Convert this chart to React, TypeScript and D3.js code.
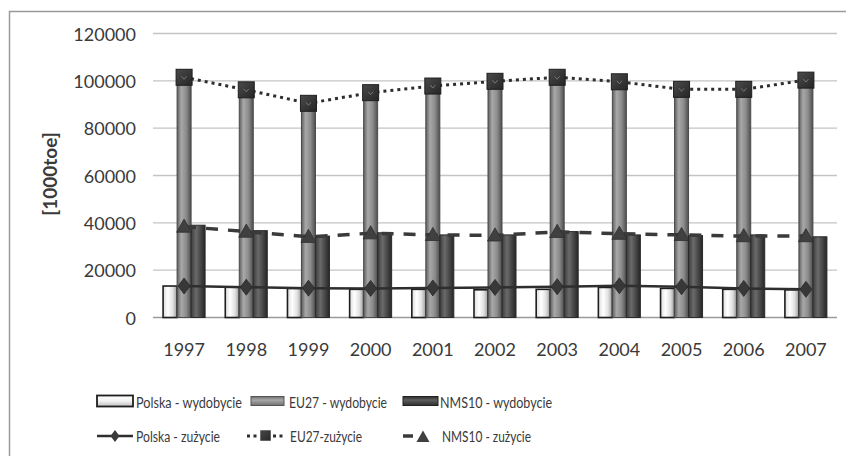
import React from "react";
import * as d3 from "d3";

const years = ["1997", "1998", "1999", "2000", "2001", "2002", "2003", "2004", "2005", "2006", "2007"];
const polskaWyd = [13300, 12800, 12300, 11900, 11900, 11700, 11900, 12700, 12300, 11900, 11700];
const eu27Wyd = [101300, 96000, 90300, 94800, 97600, 99600, 101300, 99400, 96200, 96200, 100100];
const nms10Wyd = [39000, 36700, 34400, 35800, 34900, 34900, 36300, 34900, 34600, 34900, 34100];
const polskaZuz = [13300, 12800, 12400, 12300, 12500, 12700, 13000, 13400, 13000, 12300, 11900];
const eu27Zuz = [101500, 96200, 90500, 95000, 97800, 99800, 101500, 99600, 96400, 96400, 100300];
const nms10Zuz = [38400, 36300, 34100, 35600, 34900, 34700, 36200, 35400, 34900, 34400, 34400];
const yTicks = [0, 20000, 40000, 60000, 80000, 100000, 120000];
const barSeries = ["Polska - wydobycie", "EU27 - wydobycie", "NMS10 - wydobycie"];
const lineSeries = ["Polska - zużycie", "EU27-zużycie", "NMS10 - zużycie"];

const FONT = "Lato, 'Open Sans', sans-serif";
const TXT = "#3a3a3a";

export default function App() {
  const W = 846, H = 456;
  const x = d3.scaleBand<string>().domain(years).range([153, 837]).padding(0);
  const y = d3.scaleLinear().domain([0, 120000]).range([317.5, 33.5]);
  const inner = d3.scaleBand<string>().domain(barSeries).range([-21, 21]).padding(0);
  const cx = (yr: string) => (x(yr) as number) + x.bandwidth() / 2;

  const barData = [polskaWyd, eu27Wyd, nms10Wyd];
  const fills = ["url(#gPol)", "url(#gEu)", "url(#gNms)"];
  const strokes = ["#1e1e1e", "#4a4a4a", "#2a2a2a"];

  const line = d3.line<number>().x((_, i) => cx(years[i])).y((v) => y(v));

  const diamond = (px: number, py: number, w = 6, h = 8) =>
    `M${px},${py - h}L${px + w},${py}L${px},${py + h}L${px - w},${py}Z`;
  const tri = (px: number, py: number, s = 7.5) =>
    `M${px},${py - s}L${px + s},${py + s * 0.75}L${px - s},${py + s * 0.75}Z`;

  const legFs = 15.5;
  const legText = (label: string, tx: number, ty: number, len: number) => (
    <text
      x={tx}
      y={ty}
      dominantBaseline="central"
      fontSize={legFs}
      fill={TXT}
      textLength={len}
      lengthAdjust="spacingAndGlyphs"
    >
      {label}
    </text>
  );

  return (
    <svg width={W} height={H} style={{ position: "absolute", left: 0, top: 0, fontFamily: FONT }}>
      <defs>
        <linearGradient id="gPol" x1="0" x2="1" y1="0" y2="0">
          <stop offset="0" stopColor="#dcdcdc" />
          <stop offset="0.35" stopColor="#ffffff" />
          <stop offset="0.7" stopColor="#e0e0e0" />
          <stop offset="1" stopColor="#9a9a9a" />
        </linearGradient>
        <linearGradient id="gEu" x1="0" x2="1" y1="0" y2="0">
          <stop offset="0" stopColor="#5e5e5e" />
          <stop offset="0.3" stopColor="#a8a8a8" />
          <stop offset="0.65" stopColor="#8c8c8c" />
          <stop offset="1" stopColor="#4e4e4e" />
        </linearGradient>
        <linearGradient id="gNms" x1="0" x2="1" y1="0" y2="0">
          <stop offset="0" stopColor="#3c3c3c" />
          <stop offset="0.35" stopColor="#6a6a6a" />
          <stop offset="0.7" stopColor="#454545" />
          <stop offset="1" stopColor="#262626" />
        </linearGradient>
        <linearGradient id="lPol" x1="0" x2="0" y1="0" y2="1">
          <stop offset="0" stopColor="#ffffff" />
          <stop offset="0.5" stopColor="#f2f2f2" />
          <stop offset="1" stopColor="#bdbdbd" />
        </linearGradient>
        <linearGradient id="lEu" x1="0" x2="0" y1="0" y2="1">
          <stop offset="0" stopColor="#6e6e6e" />
          <stop offset="0.4" stopColor="#a9a9a9" />
          <stop offset="1" stopColor="#707070" />
        </linearGradient>
        <linearGradient id="lNms" x1="0" x2="0" y1="0" y2="1">
          <stop offset="0" stopColor="#2e2e2e" />
          <stop offset="0.4" stopColor="#5e5e5e" />
          <stop offset="1" stopColor="#2e2e2e" />
        </linearGradient>
        <linearGradient id="gMark" x1="0" x2="1" y1="0" y2="1">
          <stop offset="0" stopColor="#4a4a4a" />
          <stop offset="1" stopColor="#262626" />
        </linearGradient>
      </defs>
      <rect x={0} y={0} width={W} height={H} fill="#ffffff" />
      <rect x={9.5} y={11.5} width={900} height={500} fill="#ffffff" stroke="#9a9a9a" strokeWidth={1.5} />

      {/* gridlines */}
      {yTicks.map((t) => (
        <line key={t} x1={153} x2={837} y1={y(t)} y2={y(t)} stroke={t === 0 ? "#9a9a9a" : "#c4c4c4"} strokeWidth={1.3} />
      ))}
      {yTicks.map((t) => (
        <text key={"t" + t} x={136} y={y(t)} textAnchor="end" dominantBaseline="central" fontSize={18} fill={TXT}>
          {t}
        </text>
      ))}
      <text
        transform={`translate(49,174) rotate(-90)`}
        textAnchor="middle"
        dominantBaseline="central"
        fontSize={19}
        fontWeight="bold"
        fill={TXT}
      >
        [1000toe]
      </text>

      {/* bars */}
      {barData.map((arr, si) =>
        arr.map((v, i) => {
          const bx = cx(years[i]) + (inner(barSeries[si]) as number);
          return (
            <rect
              key={si + "-" + i}
              x={bx}
              y={y(v)}
              width={inner.bandwidth()}
              height={y(0) - y(v)}
              fill={fills[si]}
              stroke={strokes[si]}
              strokeWidth={si === 0 ? 1.6 : 1}
            />
          );
        })
      )}

      {/* lines */}
      <path d={line(polskaZuz) as string} fill="none" stroke="#2e2e2e" strokeWidth={2.5} />
      <path d={line(nms10Zuz) as string} fill="none" stroke="#3a3a3a" strokeWidth={3.5} strokeDasharray="12 10" />
      <path d={line(eu27Zuz) as string} fill="none" stroke="#2e2e2e" strokeWidth={3} strokeDasharray="3 4" />

      {/* markers */}
      {polskaZuz.map((v, i) => (
        <path key={"pd" + i} d={diamond(cx(years[i]), y(v))} fill="#383838" stroke="#2a2a2a" strokeWidth={0.8} />
      ))}
      {nms10Zuz.map((v, i) => (
        <path key={"nt" + i} d={tri(cx(years[i]), y(v))} fill="#404040" stroke="#2e2e2e" strokeWidth={0.8} />
      ))}
      {eu27Zuz.map((v, i) => (
        <g key={"es" + i}>
          <rect x={cx(years[i]) - 8} y={y(v) - 8} width={16} height={16} fill="url(#gMark)" stroke="#1e1e1e" strokeWidth={1} />
          <path
            d={`M${cx(years[i]) - 2.5},${y(v) - 1}L${cx(years[i])},${y(v) + 2}L${cx(years[i]) + 2.5},${y(v) - 1}`}
            fill="none"
            stroke="#777"
            strokeWidth={1}
          />
        </g>
      ))}

      {/* x labels */}
      {years.map((yr) => (
        <text key={"x" + yr} x={cx(yr)} y={349} textAnchor="middle" dominantBaseline="central" fontSize={18} fill={TXT}>
          {yr}
        </text>
      ))}

      {/* legend row 1 */}
      <rect x={97} y={395.5} width={36} height={11} fill="url(#lPol)" stroke="#1e1e1e" strokeWidth={1.8} />
      {legText(barSeries[0], 136, 401.5, 106)}
      <rect x={251} y={396.5} width={33} height={9} fill="url(#lEu)" stroke="#555" strokeWidth={1} />
      {legText(barSeries[1], 289, 401.5, 98)}
      <rect x={403} y={396.5} width={35} height={9} fill="url(#lNms)" stroke="#222" strokeWidth={1} />
      {legText(barSeries[2], 440, 401.5, 112)}

      {/* legend row 2 */}
      <line x1={97} x2={133} y1={436} y2={436} stroke="#2e2e2e" strokeWidth={2.5} />
      <path d={diamond(115, 436, 4.5, 6)} fill="#3a3a3a" />
      {legText(lineSeries[0], 136, 435.5, 84)}
      <line x1={247} x2={284} y1={436} y2={436} stroke="#2e2e2e" strokeWidth={3} strokeDasharray="3 3.5" />
      <rect x={259.5} y={429.5} width={12} height={12} fill="url(#gMark)" stroke="#fff" strokeWidth={1.5} />
      {legText(lineSeries[1], 290, 435.5, 72)}
      <line x1={403} x2={413} y1={436} y2={436} stroke="#3a3a3a" strokeWidth={3.5} />
      <path d={tri(423, 437, 6.5)} fill="#404040" />
      {legText(lineSeries[2], 442, 435.5, 89)}
    </svg>
  );
}
